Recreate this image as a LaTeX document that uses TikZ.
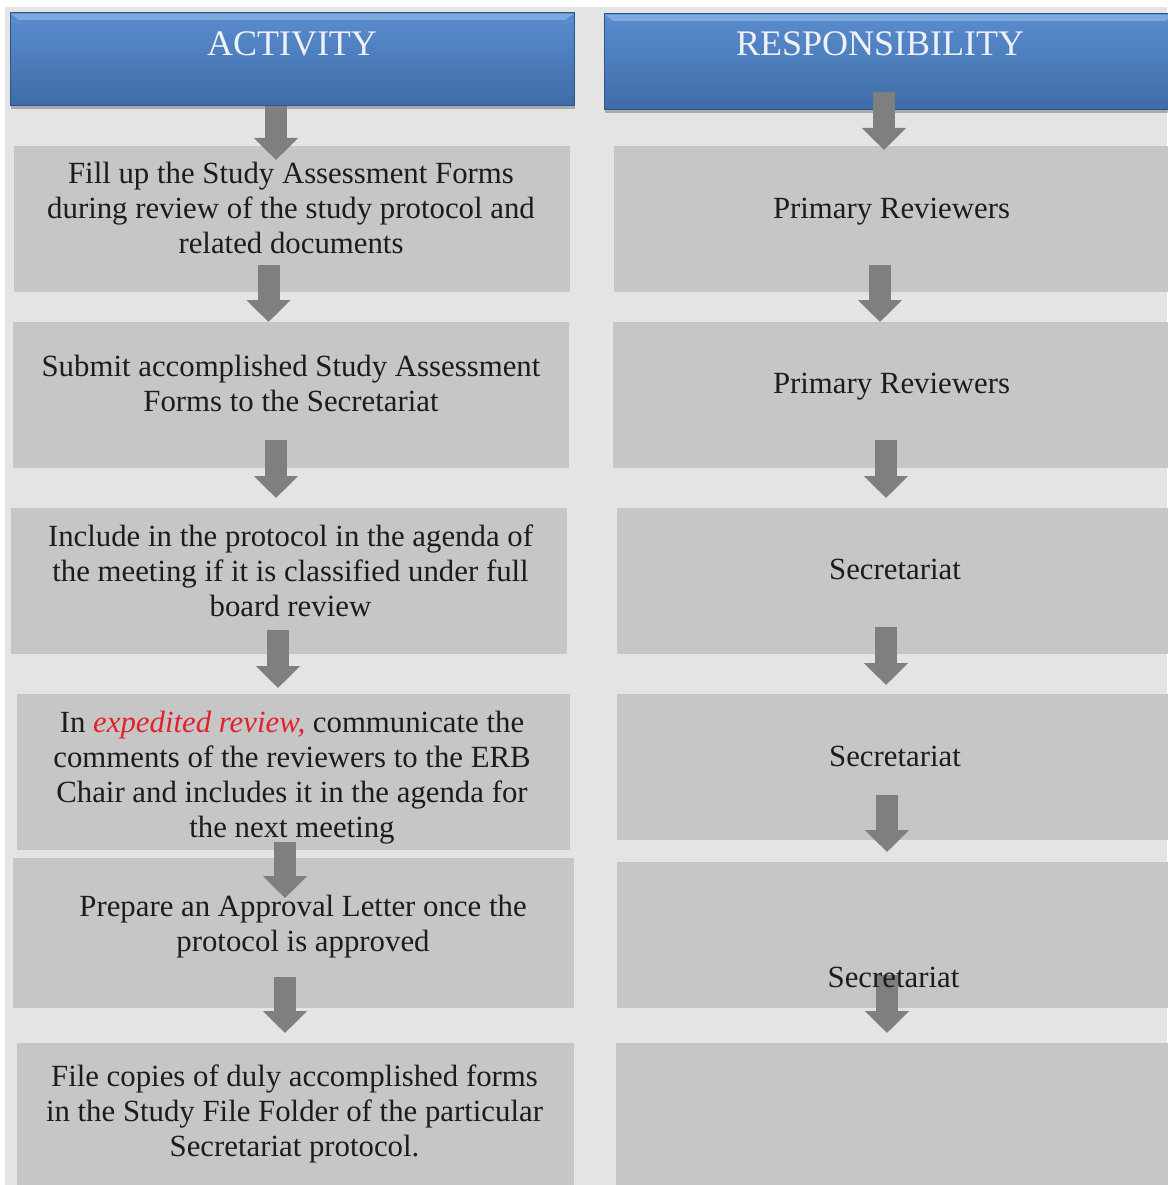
\documentclass[tikz,border=0pt]{standalone}
\usepackage{fontspec}
\setmainfont{Liberation Serif}
\usetikzlibrary{arrows.meta,shadows}
\definecolor{bggray}{HTML}{E4E4E4}
\definecolor{boxgray}{HTML}{C6C6C6}
\definecolor{arrgray}{HTML}{7F7F7F}
\definecolor{hdrtop}{HTML}{5A8DCF}
\definecolor{hdrbot}{HTML}{3E6CA7}
\definecolor{hdrlite}{HTML}{8DB6E6}
\definecolor{hdredge}{HTML}{2F5586}
\definecolor{hdrtext}{HTML}{EEF2F8}
\definecolor{txtdark}{HTML}{1C1C1C}
\definecolor{expred}{HTML}{E3212B}
\begin{document}
\begin{tikzpicture}[x=1pt,y=-1pt,
    hdr/.style={draw=hdredge,line width=1pt,top color=hdrtop,bottom color=hdrbot,inner sep=0pt,
      drop shadow={shadow xshift=1pt,shadow yshift=-3pt,fill=black,opacity=.25},
      path picture={\fill[hdrlite,opacity=.7]([xshift=1pt,yshift=-1pt]path picture bounding box.north west)
        --([xshift=-1pt,yshift=-1pt]path picture bounding box.north east)
        --([xshift=-9pt,yshift=-7pt]path picture bounding box.north east)
        --([xshift=9pt,yshift=-7pt]path picture bounding box.north west)--cycle;}},
    hdrtxt/.style={text=hdrtext,font=\fontsize{36}{40}\selectfont,inner sep=0pt},
    box/.style={fill=boxgray,inner sep=0pt},
    txt/.style={text=txtdark,font=\fontsize{30.8}{35}\selectfont,align=center,inner sep=0pt},
    flow/.style={arrgray,line width=22pt,-{Triangle[width=43pt,length=22pt]}}]
    \useasboundingbox(0,0)rectangle(1167,1185);
    \fill[bggray](5,7)rectangle(1167,1185);
    \node[hdr,minimum width=564pt,minimum height=93pt](hact)at(292,59.5){};
    \node[hdr,minimum width=570pt,minimum height=96pt](hres)at(889,62){};
    \node[hdrtxt](tact)at(292,43.5){ACTIVITY};
    \node[hdrtxt](tres)at(880,43.5){RESPONSIBILITY};
    \node[box,minimum width=556pt,minimum height=146pt](a1)at(292,219){};
    \node[box,minimum width=556pt,minimum height=146pt](a2)at(291,395){};
    \node[box,minimum width=556pt,minimum height=146pt](a3)at(289,581){};
    \node[box,minimum width=553pt,minimum height=156pt](a4)at(293.5,772){};
    \node[box,minimum width=561pt,minimum height=150pt](a5)at(293.5,933){};
    \node[box,minimum width=557pt,minimum height=142pt](a6)at(295.5,1114){};
    \node[box,minimum width=556pt,minimum height=146pt](r1)at(892,219){};
    \node[box,minimum width=557pt,minimum height=146pt](r2)at(891.5,395){};
    \node[box,minimum width=553pt,minimum height=146pt](r3)at(893.5,581){};
    \node[box,minimum width=553pt,minimum height=146pt](r4)at(893.5,767){};
    \node[box,minimum width=553pt,minimum height=146pt](r5)at(893.5,935){};
    \node[box,minimum width=554pt,minimum height=142pt](r6)at(893,1114){};
    \coordinate(p1)at(276,106);\coordinate(q1)at(276,160);
    \coordinate(p2)at(268.5,265);\coordinate(q2)at(268.5,322);
    \coordinate(p3)at(276,440);\coordinate(q3)at(276,498);
    \coordinate(p4)at(278,630);\coordinate(q4)at(278,688);
    \coordinate(p5)at(285,842);\coordinate(q5)at(285,898);
    \coordinate(p6)at(285,977);\coordinate(q6)at(285,1033);
    \coordinate(u1)at(884,92);\coordinate(v1)at(884,150);
    \coordinate(u2)at(880,265);\coordinate(v2)at(880,322);
    \coordinate(u3)at(886,440);\coordinate(v3)at(886,498);
    \coordinate(u4)at(886,627);\coordinate(v4)at(886,685);
    \coordinate(u5)at(887,795);\coordinate(v5)at(887,852);
    \coordinate(u6)at(887,975);\coordinate(v6)at(887,1033);
    \draw[flow](p1)--(q1);\draw[flow](p2)--(q2);\draw[flow](p3)--(q3);
    \draw[flow](p4)--(q4);\draw[flow](p5)--(q5);\draw[flow](p6)--(q6);
    \draw[flow](u1)--(v1);\draw[flow](u2)--(v2);\draw[flow](u3)--(v3);
    \draw[flow](u4)--(v4);\draw[flow](u5)--(v5);\draw[flow](u6)--(v6);
    \node[txt](ta1)at(291,208){Fill up the Study Assessment Forms\\during review of the study protocol and\\related documents};
    \node[txt](ta2)at(291,383.5){Submit accomplished Study Assessment\\Forms to the Secretariat};
    \node[txt](ta3)at(290.5,571){Include in the protocol in the agenda of\\the meeting if it is classified under full\\board review};
    \node[txt](ta4)at(292,777.5){In \textcolor{expred}{\textit{expedited review,}} communicate the\\comments of the reviewers to the ERB\\Chair and includes it in the agenda for\\the next meeting};
    \node[txt](ta5)at(303,927){Prepare an Approval Letter once the\\protocol is approved};
    \node[txt](ta6)at(294.5,1113.5){File copies of duly accomplished forms\\in the Study File Folder of the particular\\Secretariat protocol.};
    \node[txt](tr1)at(891.5,212){Primary Reviewers};
    \node[txt](tr2)at(891.5,387){Primary Reviewers};
    \node[txt](tr3)at(895,569.5){Secretariat};
    \node[txt](tr4)at(895,756.5){Secretariat};
    \node[txt](tr5)at(893.5,977.5){Secretariat};
\end{tikzpicture}
\end{document}
